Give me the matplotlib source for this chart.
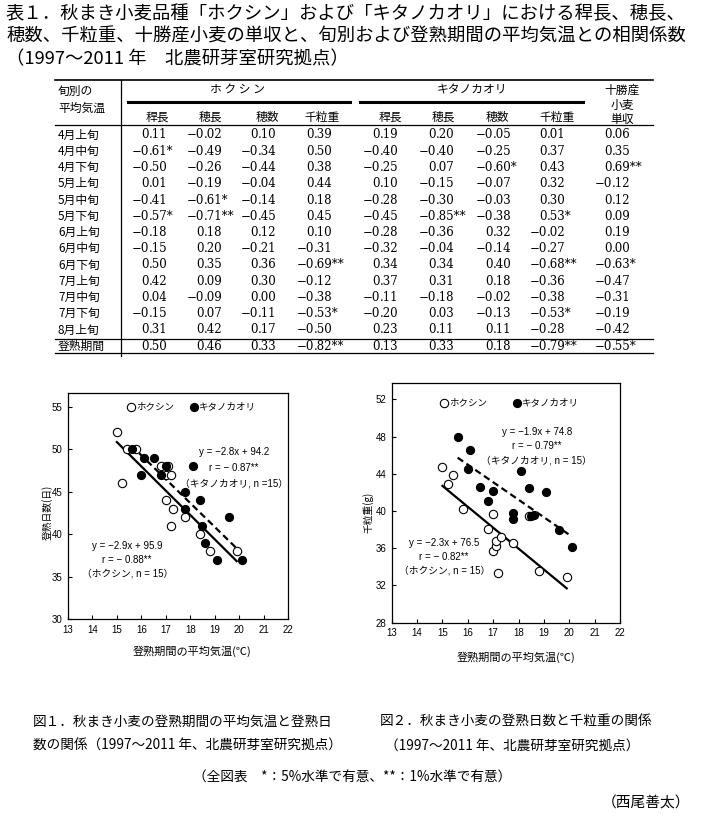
import matplotlib
matplotlib.use('Agg')
import matplotlib.pyplot as plt
from matplotlib.lines import Line2D
import numpy as np

plt.rcParams['font.family'] = ['Noto Sans CJK JP', 'DejaVu Sans']

# ---- table data (相関係数) ----
periods = ['4月上旬', '4月中旬', '4月下旬', '5月上旬', '5月中旬', '5月下旬', '6月上旬',
           '6月中旬', '6月下旬', '7月上旬', '7月中旬', '7月下旬', '8月上旬', '登熟期間']
col_names = ['稈長', '穂長', '穂数', '千粒重']

hok_culm = ['0.11', '-0.61*', '-0.50', '0.01', '-0.41', '-0.57*', '-0.18', '-0.15', '0.50', '0.42', '0.04', '-0.15', '0.31', '0.50']
hok_ear = ['-0.02', '-0.49', '-0.26', '-0.19', '-0.61*', '-0.71**', '0.18', '0.20', '0.35', '0.09', '-0.09', '0.07', '0.42', '0.46']
hok_num = ['0.10', '-0.34', '-0.44', '-0.04', '-0.14', '-0.45', '0.12', '-0.21', '0.36', '0.30', '0.00', '-0.11', '0.17', '0.33']
hok_tkw = ['0.39', '0.50', '0.38', '0.44', '0.18', '0.45', '0.10', '-0.31', '-0.69**', '-0.12', '-0.38', '-0.53*', '-0.50', '-0.82**']
kit_culm = ['0.19', '-0.40', '-0.25', '0.10', '-0.28', '-0.45', '-0.28', '-0.32', '0.34', '0.37', '-0.11', '-0.20', '0.23', '0.13']
kit_ear = ['0.20', '-0.40', '0.07', '-0.15', '-0.30', '-0.85**', '-0.36', '-0.04', '0.34', '0.31', '-0.18', '0.03', '0.11', '0.33']
kit_num = ['-0.05', '-0.25', '-0.60*', '-0.07', '-0.03', '-0.38', '0.32', '-0.14', '0.40', '0.18', '-0.02', '-0.13', '0.11', '0.18']
kit_tkw = ['0.01', '0.37', '0.43', '0.32', '0.30', '0.53*', '-0.02', '-0.27', '-0.68**', '-0.36', '-0.38', '-0.53*', '-0.28', '-0.79**']
tokachi_yield = ['0.06', '0.35', '0.69**', '-0.12', '0.12', '0.09', '0.19', '0.00', '-0.63*', '-0.47', '-0.31', '-0.19', '-0.42', '-0.55*']

# ---- 図1: 登熟期間の平均気温 vs 登熟日数 ----
f1_hok_t = [15.0, 15.2, 15.4, 15.8, 16.8, 17.1, 17.0, 17.2, 17.0, 17.3, 17.2, 17.8, 18.4, 18.8, 19.9]
f1_hok_d = [52, 46, 50, 50, 48, 48, 47, 47, 44, 43, 41, 42, 40, 38, 38]
f1_kit_t = [15.6, 16.1, 16.5, 16.0, 16.8, 17.0, 18.1, 17.8, 18.4, 17.8, 18.5, 18.6, 19.1, 19.6, 20.1]
f1_kit_d = [50, 49, 49, 47, 47, 48, 48, 45, 44, 43, 41, 39, 37, 42, 37]

# ---- 図2: 千粒重 ----
f2_hok_t = [15.0, 15.2, 15.4, 15.8, 16.8, 17.0, 17.0, 17.1, 17.1, 17.2, 17.3, 17.8, 18.4, 18.8, 19.9]
f2_hok_w = [44.7, 42.9, 43.9, 40.2, 38.1, 39.7, 35.7, 36.2, 36.8, 33.3, 37.2, 36.6, 39.5, 33.6, 32.9]
f2_kit_t = [15.6, 16.1, 16.0, 16.5, 17.0, 16.8, 18.1, 17.8, 17.8, 18.4, 19.1, 18.5, 18.6, 19.6, 20.1]
f2_kit_w = [47.9, 46.6, 44.5, 42.6, 42.1, 41.1, 44.3, 39.8, 39.1, 42.5, 42.0, 39.5, 39.6, 38.0, 36.1]

W, H = 705, 833
fig = plt.figure(figsize=(W / 100, H / 100), dpi=100)


def fx(x):
    return x / W


def fy(y):
    return 1 - y / H


def hline(x0, x1, y, lw=0.8):
    fig.add_artist(Line2D([fx(x0), fx(x1)], [fy(y), fy(y)], color='black', lw=lw))


# title
title_lines = ['表１．秋まき小麦品種「ホクシン」および「キタノカオリ」における稈長、穂長、',
               '穂数、千粒重、十勝産小麦の単収と、旬別および登熟期間の平均気温との相関係数',
               '（1997～2011 年　北農研芽室研究拠点）']
for i, t in enumerate(title_lines):
    fig.text(fx(6), fy(14 + i * 22.5), t, fontsize=13.2, va='center', ha='left')

# table
tsize = 8.5
num_font = ['DejaVu Serif', 'Noto Sans CJK JP']
hline(55, 653, 80, 1.2)
hline(55, 653, 125, 0.9)
hline(55, 653, 338.5, 0.9)
hline(55, 653, 353, 0.9)
hline(128, 350, 102, 2.2)
hline(360, 583, 102, 2.2)
fig.add_artist(Line2D([fx(120.7), fx(120.7)], [fy(80), fy(356)], color='black', lw=0.9))

fig.text(fx(58), fy(91), '旬別の', fontsize=tsize, va='center')
fig.text(fx(58), fy(108), '平均気温', fontsize=tsize, va='center')
fig.text(fx(237), fy(90), 'ホ ク シ ン', fontsize=tsize, va='center', ha='center')
fig.text(fx(472), fy(90), 'キタノカオリ', fontsize=tsize, va='center', ha='center')
for j, lab in enumerate(['十勝産', '小麦', '単収']):
    fig.text(fx(622), fy(90 + j * 15), lab, fontsize=tsize, va='center', ha='center')
for cx, lab in zip([157, 210, 267, 322], col_names):
    fig.text(fx(cx), fy(117), lab, fontsize=tsize, va='center', ha='center')
for cx, lab in zip([390, 443, 497, 557], col_names):
    fig.text(fx(cx), fy(117), lab, fontsize=tsize, va='center', ha='center')

columns = [hok_culm, hok_ear, hok_num, hok_tkw, kit_culm, kit_ear, kit_num, kit_tkw, tokachi_yield]
dec_x = [149, 204, 258, 314, 380, 436, 493, 547, 612]
row_y = [135 + i * 16.25 for i in range(13)] + [346.5]

for i, p in enumerate(periods):
    fig.text(fx(58), fy(row_y[i]), p, fontsize=tsize, va='center')
    for col, xd in zip(columns, dec_x):
        s = col[i].replace('-', '−')
        k = s.index('.')
        fig.text(fx(xd), fy(row_y[i]), s[:k], fontsize=tsize, va='center', ha='right', family=num_font)
        fig.text(fx(xd), fy(row_y[i]), s[k:], fontsize=tsize, va='center', ha='left', family=num_font)

# scatter plots
tick_font = ['Liberation Sans', 'Noto Sans CJK JP']
ax_specs = [
    dict(rect=[68, 393, 288, 619], ylim=(30, 56.6), yticks=np.arange(30, 56, 5),
         hx=f1_hok_t, hy=f1_hok_d, kx=f1_kit_t, ky=f1_kit_d,
         leg=(0.268, 0.939), colsp=1.75,
         kit_txt=(19.8, [49.6, 47.8, 46.0], ['y = −2.8x + 94.2', 'r = − 0.87**', '（キタノカオリ, n =15）']),
         hok_txt=(15.42, [38.6, 36.9, 35.3], ['y = −2.9x + 95.9', 'r = − 0.88**', '（ホクシン, n = 15）']),
         xlab=(192, 651), ylab=(47, 512, '登熟日数(日)')),
    dict(rect=[391.7, 383, 620, 622.7], ylim=(28, 53.75), yticks=np.arange(28, 53, 4),
         hx=f2_hok_t, hy=f2_hok_w, kx=f2_kit_t, ky=f2_kit_w,
         leg=(0.214, 0.918), colsp=2.75,
         kit_txt=(18.72, [48.5, 47.0, 45.4], ['y = −1.9x + 74.8', 'r = − 0.79**', '（キタノカオリ, n = 15）']),
         hok_txt=(15.07, [36.6, 35.1, 33.6], ['y = −2.3x + 76.5', 'r = − 0.82**', '（ホクシン, n = 15）']),
         xlab=(516, 657), ylab=(368, 512, '千粒重(g)')),
]

for sp in ax_specs:
    x0, y0, x1, y1 = sp['rect']
    ax = fig.add_axes([fx(x0), fy(y1), (x1 - x0) / W, (y1 - y0) / H])
    ax.scatter(sp['hx'], sp['hy'], s=36, facecolor='white', edgecolor='black', lw=0.8, label='ホクシン', zorder=3)
    ax.scatter(sp['kx'], sp['ky'], s=34, facecolor='black', edgecolor='black', lw=0.8, label='キタノカオリ', zorder=4)
    # trend lines
    hx = np.array(sp['hx'])
    kx = np.array(sp['kx'])
    ph = np.polyfit(hx, sp['hy'], 1)
    pk = np.polyfit(kx, sp['ky'], 1)
    xs = np.array([hx.min(), hx.max()])
    ax.plot(xs, np.polyval(ph, xs), color='black', lw=1.6, zorder=2)
    xs = np.array([kx.min(), kx.max()])
    ax.plot(xs, np.polyval(pk, xs), color='black', lw=1.6, ls=(0, (3, 1.8)), zorder=2)

    ax.set_xlim(13, 22)
    ax.set_ylim(*sp['ylim'])
    ax.set_xticks(range(13, 23))
    ax.set_yticks(sp['yticks'])
    ax.tick_params(direction='in', length=3, width=0.8, labelsize=7, pad=4)
    for lab in ax.get_xticklabels() + ax.get_yticklabels():
        lab.set_family(tick_font)
    for s in ax.spines.values():
        s.set_linewidth(0.9)

    ax.legend(loc='center left', bbox_to_anchor=sp['leg'], ncol=2, frameon=False,
              handlelength=0.8, handletextpad=0.15, columnspacing=sp['colsp'],
              borderpad=0, borderaxespad=0, fontsize=6.8, scatterpoints=1)

    for key in ['kit_txt', 'hok_txt']:
        tx, tys, texts = sp[key]
        for ty, t in zip(tys, texts):
            ax.text(tx, ty, t, ha='center', va='center', fontsize=7, family=tick_font)

    lx, ly = sp['xlab']
    fig.text(fx(lx), fy(ly), '登熟期間の平均気温(℃)', ha='center', va='center', fontsize=8)
    yx, yy, yt = sp['ylab']
    fig.text(fx(yx), fy(yy), yt, ha='center', va='center', fontsize=7, rotation=90)

# captions
fsize = 9.8
fig.text(fx(33), fy(722), '図１．秋まき小麦の登熟期間の平均気温と登熟日', fontsize=fsize, va='center')
fig.text(fx(33), fy(746), '数の関係（1997～2011 年、北農研芽室研究拠点）', fontsize=fsize, va='center')
fig.text(fx(380), fy(722), '図２．秋まき小麦の登熟日数と千粒重の関係', fontsize=fsize, va='center')
fig.text(fx(385), fy(746), '（1997～2011 年、北農研芽室研究拠点）', fontsize=fsize, va='center')
fig.text(fx(352), fy(778), '（全図表　*：5%水準で有意、**：1%水準で有意）', fontsize=fsize, va='center', ha='center')
fig.text(fx(690), fy(803), '（西尾善太）', fontsize=10.6, va='center', ha='right')

fig.savefig('out.png', dpi=100)
